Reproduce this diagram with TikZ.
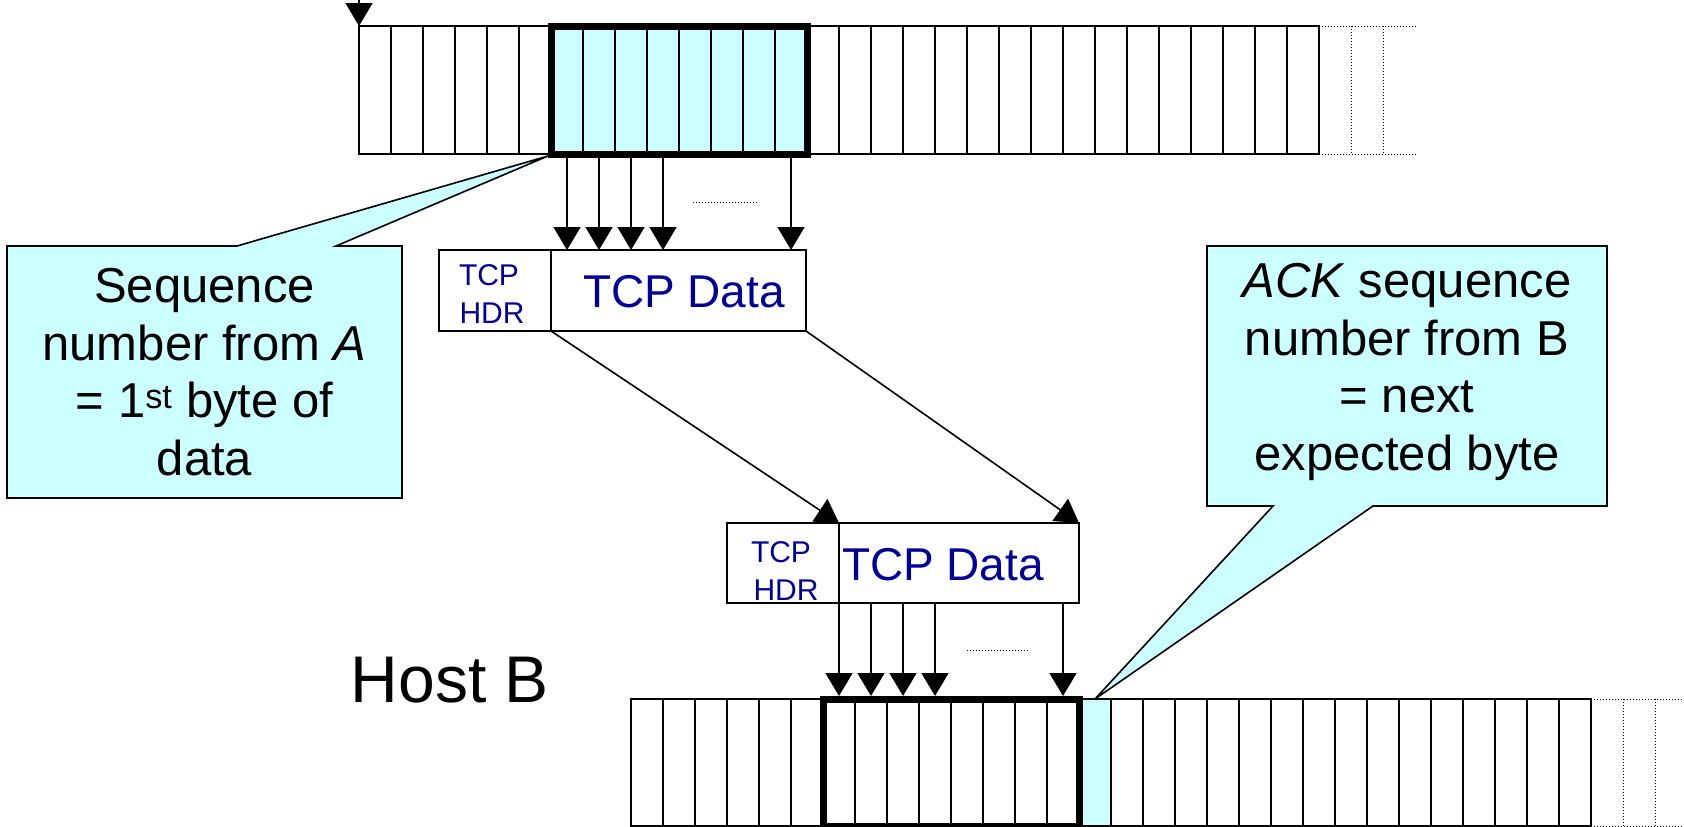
\documentclass[tikz,border=0pt]{standalone}
\usepackage{fontspec}
\setmainfont{Liberation Sans}
\usetikzlibrary{arrows.meta}
\definecolor{callcyan}{RGB}{204,255,255}
\definecolor{tcpblue}{RGB}{0,0,153}
\tikzset{
  cell/.style={draw=black, line width=1.4pt},
  pkt/.style={draw=black, line width=1.6pt, fill=white, inner sep=0pt, outer sep=0pt, anchor=north west},
  flow/.style={draw=black, line width=1.6pt, -{Triangle[width=27pt,length=23pt]}},
  callout/.style={fill=callcyan, draw=black, line width=1.6pt, line join=miter},
  calltext/.style={align=center, font=\fontsize{49}{57.5}\selectfont, inner sep=0pt},
  tcptext/.style={text=tcpblue, font=\fontsize{46}{50}\selectfont, inner sep=0pt, anchor=base},
  hdrtext/.style={text=tcpblue, font=\fontsize{30}{36}\selectfont, inner sep=0pt, anchor=base},
  hosttext/.style={font=\fontsize{66}{70}\selectfont, inner sep=0pt, anchor=base},
  dots/.style={dotted, line width=1pt},
  winbox/.style={draw=black, line width=7pt},
}
\begin{document}
\begin{tikzpicture}[x=1pt,y=-1pt]
\useasboundingbox (0,0) rectangle (1684,827);
\clip (0,0) rectangle (1684,827);

% ---------- left callout (under the top buffer) ----------
\draw[callout] (7,246) -- (237,246) -- (548,156) -- (336,246) -- (402,246)
  -- (402,498) -- (7,498) -- cycle;
\node[calltext] (cA) at (204.5,372) {Sequence\\number from \textit{A}\\= 1\textsuperscript{st} byte of\\data};

% ---------- top buffer (host A) ----------
\fill[callcyan] (551,26) rectangle (807,154);
\draw[cell] (359,26) rectangle (1319,154);
\foreach \i in {1,...,29} \draw[cell] (359+32*\i,26) -- (359+32*\i,154);
\draw[dots] (1319,26) -- (1416,26) (1319,154) -- (1416,154)
  (1351,26) -- (1351,154) (1383,26) -- (1383,154);
\draw[winbox] (551,26) rectangle (807,154);
\coordinate (srcA) at (359,0);
\coordinate (inA) at (359,26);
\draw[flow] (srcA) -- (inA);

% ---------- packet leaving A ----------
\node[pkt, minimum width=112pt, minimum height=81pt] (hdrA) at (439,250) {};
\node[pkt, minimum width=255pt, minimum height=81pt] (datA) at (551,250) {};
\node[hdrtext] (hA1) at (489,285) {TCP};
\node[hdrtext] (hA2) at (492,323) {HDR};
\node[tcptext] (tA) at (684,307) {TCP Data};

\foreach \x in {567,599,631,663,791} {
  \coordinate (s\x) at (\x,158);
  \coordinate (e\x) at (\x,250);
  \draw[flow] (s\x) -- (e\x);
}
\coordinate (dA1) at (693,202);
\coordinate (dA2) at (757,202);
\draw[dots] (dA1) -- (dA2);

% ---------- packet arriving at B ----------
\node[pkt, minimum width=112pt, minimum height=80pt] (hdrB) at (727,523) {};
\node[pkt, minimum width=240pt, minimum height=80pt] (datB) at (839,523) {};
\node[hdrtext] (hB1) at (781,562) {TCP};
\node[hdrtext] (hB2) at (786,600) {HDR};
\node[tcptext] (tB) at (943,580) {TCP Data};

\draw[flow] (hdrA.south east) -- (hdrB.north east);
\draw[flow] (datA.south east) -- (datB.north east);

\foreach \x in {839,871,903,935,1063} {
  \coordinate (u\x) at (\x,603);
  \coordinate (v\x) at (\x,696);
  \draw[flow] (u\x) -- (v\x);
}
\coordinate (dB1) at (967,650);
\coordinate (dB2) at (1030,650);
\draw[dots] (dB1) -- (dB2);

% ---------- right callout ----------
\draw[callout] (1207,246) -- (1607,246) -- (1607,506) -- (1373,506) -- (1095,699)
  -- (1273,506) -- (1207,506) -- cycle;
\node[calltext] (cB) at (1407,372) {\textit{ACK} sequence\\number from B\\= next\\expected byte};

% ---------- host B ----------
\node[hosttext] (host) at (450,702) {Host B};

% ---------- bottom buffer (host B) ----------
\fill[callcyan] (1079,699) rectangle (1111,826);
\draw[cell] (631,699) rectangle (1591,826);
\foreach \i in {1,...,29} \draw[cell] (631+32*\i,699) -- (631+32*\i,826);
\draw[dots] (1591,699) -- (1684,699) (1591,826) -- (1684,826)
  (1623,699) -- (1623,826) (1655,699) -- (1655,826);
\draw[winbox] (823,699) rectangle (1079,826);
\end{tikzpicture}
\end{document}
